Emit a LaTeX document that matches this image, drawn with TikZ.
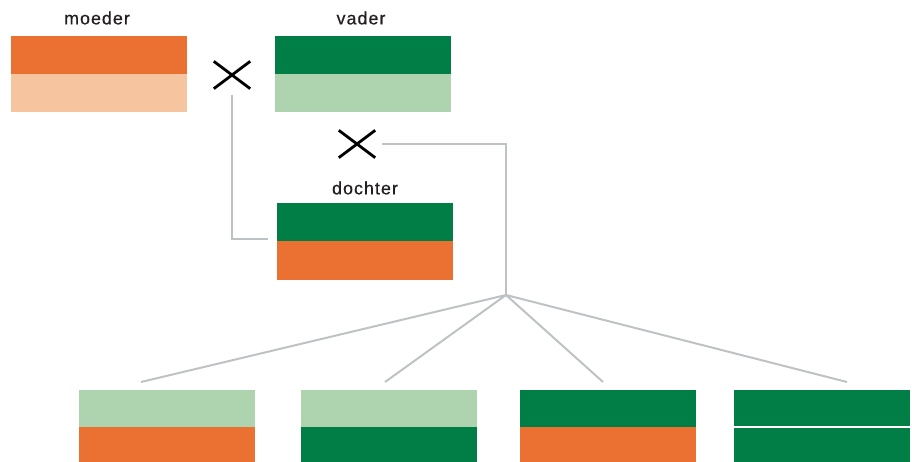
\documentclass[tikz,border=0pt]{standalone}
\usepackage{fontspec}
\setmainfont{Liberation Sans}[LetterSpace=6, FakeBold=0.6]
\definecolor{orangeD}{HTML}{EA7131}
\definecolor{orangeL}{HTML}{F6C49E}
\definecolor{greenD}{HTML}{007E45}
\definecolor{greenL}{HTML}{AED3AF}
\definecolor{linkgrey}{HTML}{BEC2C4}
\definecolor{textgrey}{HTML}{231F20}
\tikzset{
  x=1pt, y=-1pt,
  half/.style={rectangle, minimum width=176pt, inner sep=0pt, outer sep=0pt, draw=none},
  label/.style={font=\fontsize{17.8}{20}\selectfont, text=textgrey, inner sep=0pt},
  crossmark/.style={minimum width=36pt, minimum height=27pt, inner sep=0pt},
  crossline/.style={line width=2.8pt, black},
  link/.style={line width=2pt, linkgrey},
}
\begin{document}
\begin{tikzpicture}
\useasboundingbox (0,0) rectangle (912,462);

% parents
\node[half, fill=orangeD, minimum height=38pt, anchor=north west] (m1) at (11,36) {};
\node[half, fill=orangeL, minimum height=38.5pt, anchor=north west] (m2) at (11,74) {};
\node[half, fill=greenD, minimum height=38pt, anchor=north west] (v1) at (275,36) {};
\node[half, fill=greenL, minimum height=38.5pt, anchor=north west] (v2) at (275,74) {};
\node[label] (lm) at (97,18) {moeder};
\node[label] (lv) at (361,18) {vader};

% daughter
\node[half, fill=greenD, minimum height=38pt, anchor=north west] (d1) at (277,203) {};
\node[half, fill=orangeD, minimum height=39pt, anchor=north west] (d2) at (277,241) {};
\node[label] (ld) at (365,188) {dochter};

% crossing marks
\node[crossmark] (x1) at (232,75) {};
\draw[crossline] (x1.north west) -- (x1.south east) (x1.south west) -- (x1.north east);
\node[crossmark] (x2) at (357,144) {};
\draw[crossline] (x2.north west) -- (x2.south east) (x2.south west) -- (x2.north east);

% offspring
\node[half, fill=greenL, minimum height=37pt, anchor=north west] (a1) at (79,390) {};
\node[half, fill=orangeD, minimum height=37pt, anchor=north west] (a2) at (79,427) {};
\node[half, fill=greenL, minimum height=37pt, anchor=north west] (b1) at (301,390) {};
\node[half, fill=greenD, minimum height=37pt, anchor=north west] (b2) at (301,427) {};
\node[half, fill=greenD, minimum height=37pt, anchor=north west] (c1) at (520,390) {};
\node[half, fill=orangeD, minimum height=37pt, anchor=north west] (c2) at (520,427) {};
\node[half, fill=greenD, minimum height=37pt, anchor=north west] (e1) at (734,390) {};
\node[half, fill=greenD, minimum height=37pt, anchor=north west] (e2) at (734,427) {};
\draw[white, line width=1.6pt] (e2.north west) -- (e2.north east);

% connectors
\coordinate (j) at (506,295);
\coordinate (ta) at (141,382);
\coordinate (tb) at (385,382);
\coordinate (tc) at (603,382);
\coordinate (te) at (847,382);
\draw[link] ([yshift=-6pt]x1.south) |- ([xshift=-9pt,yshift=2pt]d1.south west);
\draw[link] ([xshift=7pt]x2.east) -| (j);
\draw[link] (j) -- (ta) (j) -- (tb) (j) -- (tc) (j) -- (te);
\end{tikzpicture}
\end{document}
